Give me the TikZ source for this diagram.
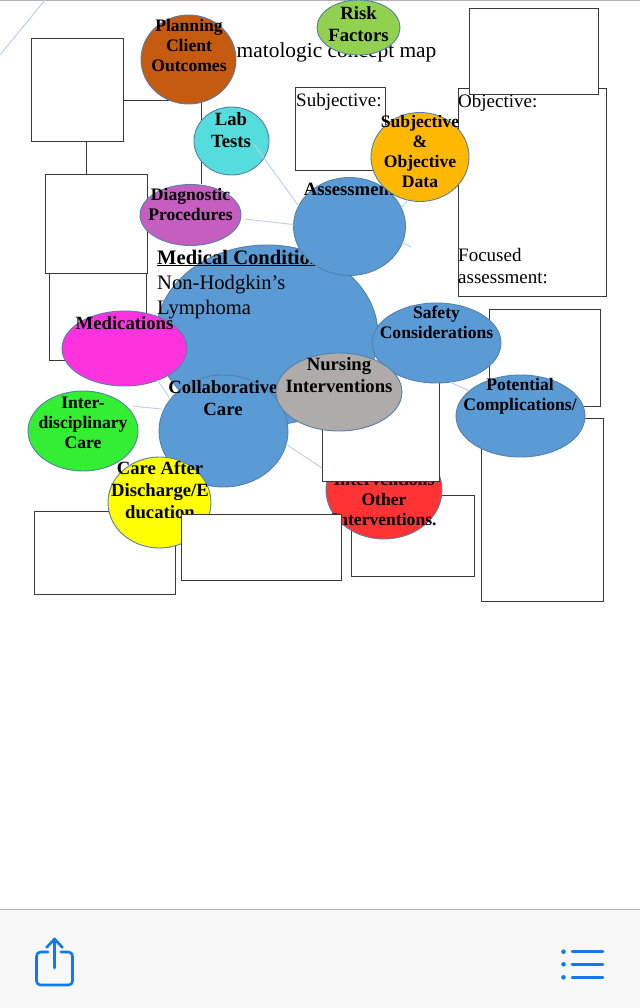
\documentclass[tikz,border=0pt]{standalone}
\usepackage{fontspec}
\setmainfont{Liberation Serif}
\usetikzlibrary{shapes.geometric}
\pgfdeclarelayer{back}
\pgfsetlayers{back,main}
\definecolor{edgegray}{HTML}{383838}
\definecolor{linkblue}{HTML}{BCCFE6}
\definecolor{mapblue}{HTML}{5B9BD5}
\definecolor{rimblue}{HTML}{5580A8}
\definecolor{iosblue}{HTML}{0F7AEC}
\definecolor{barfill}{HTML}{F8F8F8}
\definecolor{barline}{HTML}{B2B2B2}
\definecolor{cplan}{HTML}{C55A11}
\definecolor{crisk}{HTML}{92D050}
\definecolor{clab}{HTML}{55DDDD}
\definecolor{cdiag}{HTML}{C65EC0}
\definecolor{csod}{HTML}{FFB800}
\definecolor{cmedi}{HTML}{FF33DD}
\definecolor{cinter}{HTML}{33EE33}
\definecolor{ccare}{HTML}{FFFF00}
\definecolor{cred}{HTML}{FF3333}
\definecolor{cnurse}{HTML}{AFABAB}
\tikzset{
  boxa/.style={draw=edgegray,line width=.9pt,fill=white,inner sep=0pt,outer sep=0pt},
  bub/.style={ellipse,draw=rimblue,line width=.9pt,inner sep=0pt,outer sep=0pt},
  lbl/.style={align=center,inner sep=0pt,font=\fontsize{17.6}{20}\selectfont\bfseries},
  lblb/.style={align=center,inner sep=0pt,font=\fontsize{18.7}{22}\selectfont\bfseries},
  body/.style={align=left,inner sep=0pt,anchor=base west,font=\fontsize{19}{22}\selectfont},
  link/.style={draw=linkblue,line width=.9pt},
  conn/.style={draw=edgegray,line width=.9pt},
  icon/.style={draw=iosblue,line width=2.6pt,line cap=round,line join=round}
}
\newcommand{\boxat}[5]{\node[boxa,minimum width=#4-#2,minimum height=#5-#3,anchor=north west] (#1) at (#2,#3) {};}
\newcommand{\bubat}[6]{\node[bub,fill=#6,minimum width=2*#4,minimum height=2*#5] (#1) at (#2,#3) {};}
\begin{document}
\begin{tikzpicture}[x=1pt,y=-1pt]
\useasboundingbox (0,0) rectangle (640,1008);
% title
\node[inner sep=0pt,anchor=base west,font=\fontsize{21.4}{24}\selectfont] (title) at (236.5,58) {matologic concept map};
% left boxes
\boxat{boxa}{31}{38}{123}{141}
\boxat{boxc}{49}{273}{146}{360}
\boxat{boxb}{45}{174}{147}{273}
% upper right boxes
\boxat{boxsub}{295.5}{87}{385}{170}
\node[body] (subt) at (296,107) {Subjective:};
\boxat{boxobj}{458}{88}{606}{296}
\node[body] (objt) at (458,108) {Objective:};
\node[body] (foct) at (458,283) {Focused\\assessment:};
\boxat{boxtop}{469}{8}{598}{94}
% top bubbles
\bubat{plan}{188.5}{59.5}{47.5}{44.5}{cplan}
\node[lbl] (plant) at (189,46) {Planning\\Client\\Outcomes};
\bubat{risk}{358.5}{27.5}{41.5}{27.5}{crisk}
\node[lblb] (riskt) at (358.5,24) {Risk\\Factors};
\bubat{lab}{231.5}{141}{37.5}{34}{clab}
\node[lblb] (labt) at (231,130) {Lab\\Tests};
\bubat{diag}{190.5}{215}{50.5}{30.5}{cdiag}
\node[lbl] (diagt) at (190.5,205) {Diagnostic\\Procedures};
% central bubble
\bubat{med}{267}{335}{111}{90}{mapblue}
\node[body,font=\fontsize{20.6}{25}\selectfont] (medt) at (157,314) {\textbf{\underline{Medical Condition}}\\Non-Hodgkin’s\\Lymphoma};
\bubat{assess}{349.5}{226.5}{56}{49}{mapblue}
\node[lblb] (asst) at (349.5,189) {Assessment};
\bubat{sod}{420}{157}{49}{44.5}{csod}
\node[lbl] (sodt) at (420,151) {Subjective\\\&\\Objective\\Data};
% lower boxes
\boxat{boxothr}{351.5}{495}{474}{576}
\boxat{boxcare}{34}{511}{175.5}{594}
\boxat{boxsafe}{489}{309}{600.5}{406}
\boxat{boxpot}{481.5}{418}{603}{601}
% lower bubbles
\bubat{medi}{124.5}{348.5}{62.5}{37.5}{cmedi}
\node[lblb] (medit) at (124.5,323) {Medications};
\bubat{inter}{83}{431}{55}{40}{cinter}
\node[lbl] (intert) at (83,423) {Inter-\\disciplinary\\Care};
\bubat{collab}{223.5}{431}{64.5}{56}{mapblue}
\node[lblb] (collabt) at (223,398) {Collaborative\\Care};
\bubat{care}{159.5}{502.5}{51.5}{45.5}{ccare}
\node[lblb] (caret) at (160,490) {Care After\\Discharge/E\\ducation};
\bubat{red}{384}{490}{58}{49}{cred}
\node[lbl] (redt) at (384,500) {Interventions\\Other\\Interventions.};
\boxat{boxnurse}{322.5}{370}{439.5}{481.5}
\boxat{boxlow}{181.5}{514}{341.5}{580}
\bubat{safe}{436.5}{343}{64.5}{40}{mapblue}
\node[lbl] (safet) at (436.5,322) {Safety\\Considerations};
\bubat{nurse}{339}{392}{63}{39}{cnurse}
\node[lblb] (nurset) at (339,375) {Nursing\\Interventions};
\bubat{pot}{520.5}{416}{64.5}{41}{mapblue}
\node[lbl] (pott) at (520,396) {Potential\\Complications/};
% light connectors
\coordinate (labin) at (253,143);
\coordinate (diagout) at (245,219);
\coordinate (assessout) at (411,247);
\coordinate (interout) at (132,406);
\coordinate (nurseedge) at (322,468);
\draw[link] (labin) -- (assess.158);
\draw[link] (diagout) -- (assess.178);
\draw[link] (assess.20) -- (sod.254);
\draw[link] (assess.-17) -- (assessout);
\draw[link] (medi.-44) -- (collab.149);
\draw[link] (interout) -- (collab.160);
\draw[link] (collab.-12.5) -- (nurseedge);
\draw[link] (safe.-71) -- (pot.154);
% dark connectors underneath everything
\coordinate (elbow) at (201,100.5);
\coordinate (drop) at (86,150);
\begin{pgfonlayer}{back}
\fill[white] (0,0) rectangle (640,1008);
\draw[draw=barline,line width=1.5pt] (0,0) -- (640,0);
\draw[draw=linkblue,line width=1pt] (45,0) -- (0,55);
\draw[conn] (boxa.east |- elbow) -- (elbow) -- (elbow |- diag.north);
\draw[conn] (drop |- boxa.south) -- (drop |- boxb.north);
\end{pgfonlayer}
% bottom toolbar
\fill[barfill] (0,909.5) rectangle (640,1008);
\draw[draw=barline,line width=1pt] (0,909.5) -- (640,909.5);
\draw[icon,rounded corners=4pt] (48,952) -- (36.5,952) -- (36.5,985) -- (72.5,985) -- (72.5,952) -- (61,952);
\draw[icon] (54.5,968) -- (54.5,939);
\draw[icon] (46.5,947.5) -- (54.5,939) -- (62.5,947.5);
\foreach \yy in {951.7,964.3,977.3}{
  \fill[iosblue] (563.5,\yy) circle (2.3pt);
  \draw[draw=iosblue,line width=2.6pt,line cap=round] (572,\yy) -- (603,\yy);
}
\end{tikzpicture}
\end{document}
